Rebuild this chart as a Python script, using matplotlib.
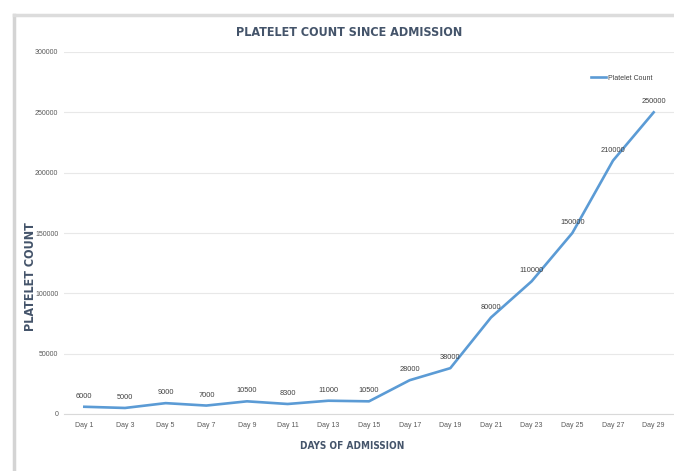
# Platelet count since admission - line chart with data labels

import matplotlib.pyplot as plt
from matplotlib.lines import Line2D
from matplotlib import font_manager

# Chart data
days = ['Day 1', 'Day 3', 'Day 5', 'Day 7', 'Day 9', 'Day 11', 'Day 13', 'Day 15',
        'Day 17', 'Day 19', 'Day 21', 'Day 23', 'Day 25', 'Day 27', 'Day 29']
platelets = [6000, 5000, 9000, 7000, 10500, 8300, 11000, 10500,
             28000, 38000, 80000, 110000, 150000, 210000, 250000]
y_ticks = [0, 50000, 100000, 150000, 200000, 250000, 300000]

plt.rcParams['font.family'] = ['Liberation Sans', 'DejaVu Sans']

# Condensed bold font for the headings if one is installed
fonts = font_manager.fontManager.ttflist
condensed = any(f.name == 'DejaVu Sans' and f.stretch == 'condensed' for f in fonts)
if condensed:
    head = dict(family=['DejaVu Sans'], fontstretch='condensed')
    title_size, xlab_size, ylab_size = 9, 7.2, 9
else:
    head = dict(family=['Liberation Sans'])
    title_size, xlab_size, ylab_size = 8.8, 7, 8.6

fig = plt.figure(figsize=(6.74, 4.71), dpi=100)

# Outer chart frame (left and top edges)
fig.add_artist(Line2D([14/674, 14/674], [0, 1 - 15/471], color='#d4d4d4', lw=2.5))
fig.add_artist(Line2D([14/674, 1], [1 - 15/471, 1 - 15/471], color='#dcdcdc', lw=2.5))

ax = fig.add_axes([64/674, 1 - 414/471, 610/674, (414 - 52)/471])

x = list(range(len(days)))
line_color = '#5B9BD5'
ax.plot(x, platelets, color=line_color, lw=1.9, label='Platelet Count', solid_joinstyle='round')

# Data labels above each point
for xi, v in zip(x, platelets):
    ax.annotate(str(v), (xi, v), xytext=(0, 5), textcoords='offset points',
                ha='center', va='bottom', fontsize=5.3, color='#404040')

ax.set_xlim(-0.5, len(days) - 0.5)
ax.set_ylim(0, 300000)
ax.set_xticks(x)
ax.set_xticklabels(days)
ax.set_yticks(y_ticks)
ax.set_yticklabels([str(t) for t in y_ticks])
ax.tick_params(axis='both', labelsize=5, colors='#595959', length=0)
ax.tick_params(axis='x', pad=6)
ax.tick_params(axis='y', pad=4)

ax.grid(axis='y', color='#e8e8e8', lw=0.8)
ax.set_axisbelow(True)
for side in ['top', 'right', 'left']:
    ax.spines[side].set_visible(False)
ax.spines['bottom'].set_color('#d9d9d9')
ax.spines['bottom'].set_linewidth(0.8)

# Title and axis labels
fig.text(349/674, 1 - 32/471, 'PLATELET COUNT SINCE ADMISSION', ha='center', va='center',
         fontsize=title_size, fontweight='bold', color='#44546A', **head)
fig.text(352/674, 1 - 446/471, 'DAYS OF ADMISSION', ha='center', va='center',
         fontsize=xlab_size, fontweight='bold', color='#44546A', **head)
fig.text(31/674, 1 - 277/471, 'PLATELET COUNT', ha='center', va='center', rotation=90,
         fontsize=ylab_size, fontweight='bold', color='#44546A', **head)

ax.legend(loc='upper right', bbox_to_anchor=(0.975, 0.955), frameon=False, fontsize=5,
          handlelength=2.2, handletextpad=0.3, labelcolor='#404040')

fig.savefig('out.png', dpi=100)
